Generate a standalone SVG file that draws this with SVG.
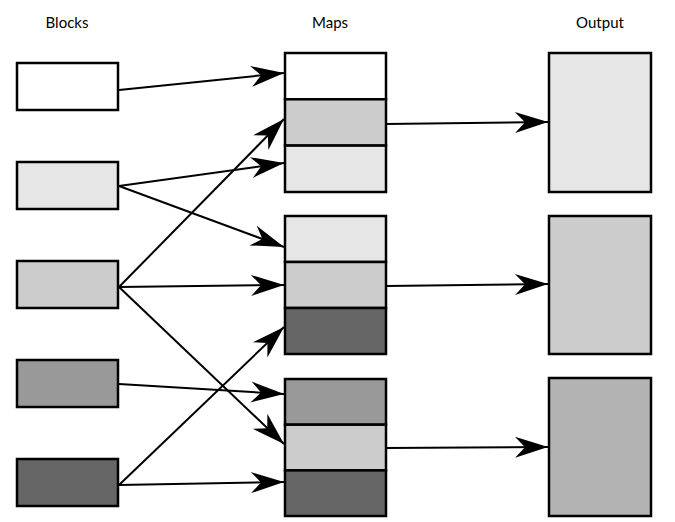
<svg xmlns="http://www.w3.org/2000/svg" width="675" height="522" viewBox="0 0 675 522">
  <style>
    .box { stroke: #000; stroke-width: 2.5; }
    .cell { stroke: #000; stroke-width: 2.5; }
    .lbl { font-family: Lato, "Open Sans", sans-serif; font-size: 15px; fill: #000; text-anchor: middle; }
    .conn line { stroke: #000; stroke-width: 2; fill: none; marker-end: url(#head); }
  </style>
  <defs>
    <marker id="head" markerUnits="userSpaceOnUse" markerWidth="36" markerHeight="24" viewBox="-34 -12 36 24" refX="0" refY="0" orient="auto">
      <path d="M0,0 L-33,-10.5 L-23,0 L-33,10.5 Z" fill="#000"/>
    </marker>
  </defs>
  <rect width="675" height="522" fill="#fff"/>

  <!-- column headings -->
  <text class="lbl" x="67" y="28">Blocks</text>
  <text class="lbl" x="330" y="28">Maps</text>
  <text class="lbl" x="600" y="28">Output</text>

  <!-- input blocks -->
  <g id="block1"><rect class="box" x="17" y="63" width="101" height="47" fill="#ffffff"/></g>
  <g id="block2"><rect class="box" x="17" y="162" width="101" height="47" fill="#e6e6e6"/></g>
  <g id="block3"><rect class="box" x="17" y="261" width="101" height="47" fill="#cccccc"/></g>
  <g id="block4"><rect class="box" x="17" y="360" width="101" height="47" fill="#999999"/></g>
  <g id="block5"><rect class="box" x="17" y="459" width="101" height="47" fill="#666666"/></g>

  <!-- map stacks -->
  <g id="map1">
    <rect class="cell" x="285" y="53" width="101" height="46.3" fill="#ffffff"/>
    <rect class="cell" x="285" y="99.3" width="101" height="46.3" fill="#cccccc"/>
    <rect class="cell" x="285" y="145.6" width="101" height="46.4" fill="#e6e6e6"/>
  </g>
  <g id="map2">
    <rect class="cell" x="285" y="216" width="101" height="46" fill="#e6e6e6"/>
    <rect class="cell" x="285" y="262" width="101" height="46" fill="#cccccc"/>
    <rect class="cell" x="285" y="308" width="101" height="46" fill="#666666"/>
  </g>
  <g id="map3">
    <rect class="cell" x="285" y="379" width="101" height="45.7" fill="#999999"/>
    <rect class="cell" x="285" y="424.7" width="101" height="45.7" fill="#cccccc"/>
    <rect class="cell" x="285" y="470.4" width="101" height="45.6" fill="#666666"/>
  </g>

  <!-- outputs -->
  <g id="out1"><rect class="box" x="549" y="53" width="102" height="139" fill="#e6e6e6"/></g>
  <g id="out2"><rect class="box" x="549" y="216" width="102" height="138" fill="#cccccc"/></g>
  <g id="out3"><rect class="box" x="549" y="378" width="102" height="138" fill="#b3b3b3"/></g>

  <!-- connectors -->
  <g id="connectors" class="conn">
    <line x1="119" y1="90" x2="284" y2="73"/>
    <line x1="119" y1="186" x2="284" y2="163"/>
    <line x1="119" y1="186" x2="284" y2="247"/>
    <line x1="119" y1="287" x2="284" y2="119"/>
    <line x1="119" y1="287" x2="284" y2="285"/>
    <line x1="119" y1="287" x2="284" y2="444"/>
    <line x1="119" y1="384" x2="284" y2="394"/>
    <line x1="119" y1="485" x2="284" y2="327"/>
    <line x1="119" y1="485" x2="284" y2="482"/>
    <line x1="386" y1="124" x2="548" y2="122"/>
    <line x1="386" y1="286" x2="548" y2="284"/>
    <line x1="386" y1="448" x2="548" y2="447"/>
  </g>
</svg>
